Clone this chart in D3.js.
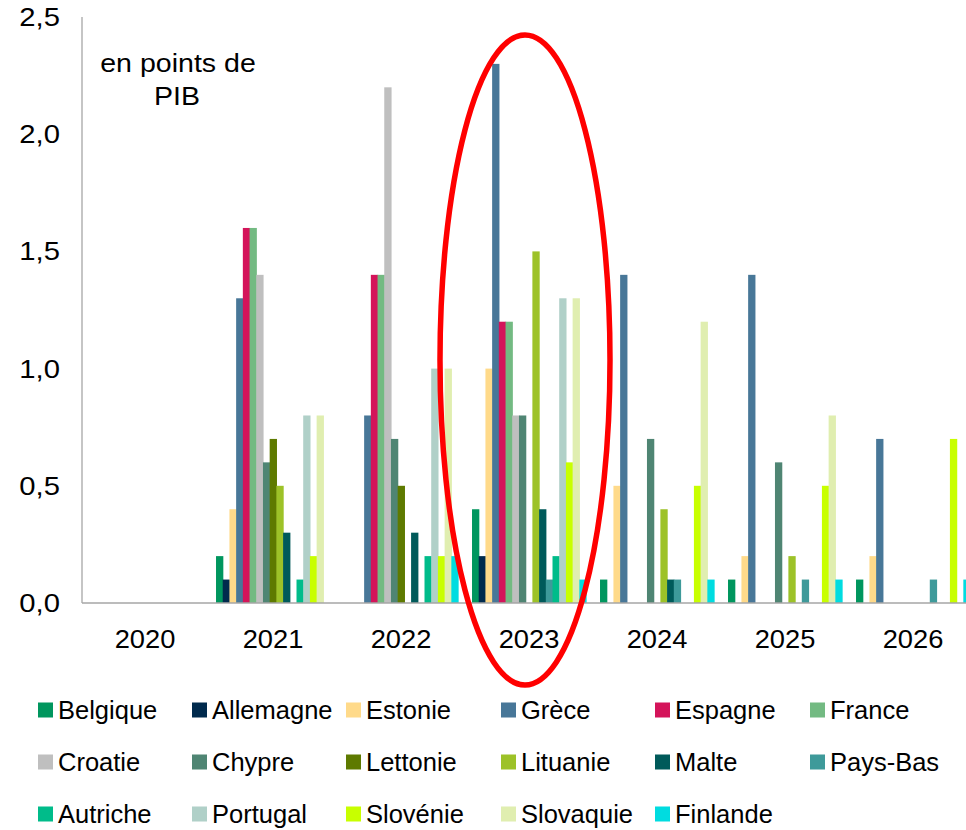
<!DOCTYPE html>
<html><head><meta charset="utf-8">
<script src="https://cdn.jsdelivr.net/npm/d3@7"></script>
<style>body{margin:0;background:#fff;} text{font-family:Arial,"Liberation Sans",sans-serif;}</style>
</head><body>
<svg id="c" width="966" height="830"></svg>
<script>
const years = ["2020","2021","2022","2023","2024","2025","2026"];
const countries = ["Belgique","Allemagne","Estonie","Grèce","Espagne","France","Croatie","Chypre","Lettonie","Lituanie","Malte","Pays-Bas","Autriche","Portugal","Slovénie","Slovaquie","Finlande"];
const colors = ["#00965E","#002A4D","#FFDA8A","#487798","#D4145A","#73BA82","#BFBFBF","#4F8573","#5E7A00","#9DC228","#005A5A","#3E9A9A","#00BC8A","#B0D0C8","#C8FF00","#E0EEB0","#00DCE0"];
// values per country, one per year 2020..2026
const belgique  = [0,0.2,0,0.4,0.1,0.1,0.1];
const allemagne = [0,0.1,0,0.2,0,0,0];
const estonie   = [0,0.4,0,1.0,0.5,0.2,0.2];
const grece     = [0,1.3,0.8,2.3,1.4,1.4,0.7];
const espagne   = [0,1.6,1.4,1.2,0,0,0];
const france    = [0,1.6,1.4,1.2,0,0,0];
const croatie   = [0,1.4,2.2,0.8,0,0,0];
const chypre    = [0,0.6,0.7,0.8,0.7,0.6,0];
const lettonie  = [0,0.7,0.5,0,0,0,0];
const lituanie  = [0,0.5,0,1.5,0.4,0.2,0];
const malte     = [0,0.3,0.3,0.4,0.1,0,0];
const paysbas   = [0,0,0,0.1,0.1,0.1,0.1];
const autriche  = [0,0.1,0.2,0.2,0,0,0];
const portugal  = [0,0.8,1.0,1.3,0,0,0];
const slovenie  = [0,0.2,0.2,0.6,0.5,0.5,0.7];
const slovaquie = [0,0.8,1.0,1.3,1.2,0.8,0];
const finlande  = [0,0,0.2,0.1,0.1,0.1,0.1];
const series = [belgique,allemagne,estonie,grece,espagne,france,croatie,chypre,lettonie,lituanie,malte,paysbas,autriche,portugal,slovenie,slovaquie,finlande];
const yTicks = [0,0.5,1.0,1.5,2.0,2.5];

const svg = d3.select("#c");
const mLeft = 82, mRight = 978, mTop = 17, mBottom = 603;
const x = d3.scaleBand().domain(years).range([mLeft, mRight]);
const y = d3.scaleLinear().domain([0,2.5]).range([mBottom, mTop]);
const step = x.bandwidth()*0.0524;
const off = x.bandwidth()*0.047;

const g = svg.append("g");
countries.forEach((c,i)=>{
  g.selectAll(null).data(series[i].map((v,j)=>({v,yr:years[j]})).filter(d=>d.v>0))
   .enter().append("rect")
   .attr("x", d=>x(d.yr)+off+i*step)
   .attr("width", step+0.6)
   .attr("y", d=>y(d.v))
   .attr("height", d=>y(0)-y(d.v))
   .attr("fill", colors[i]);
});

// axes
svg.append("line").attr("x1",mLeft).attr("x2",mLeft).attr("y1",mTop).attr("y2",mBottom).attr("stroke","#A6A6A6").attr("stroke-width",1.3);
svg.append("line").attr("x1",mLeft).attr("x2",966).attr("y1",mBottom).attr("y2",mBottom).attr("stroke","#A6A6A6").attr("stroke-width",1.3);

svg.selectAll(".yt").data(yTicks).enter().append("text")
  .attr("transform",d=>`translate(60,${y(d)}) scale(1.17,1)`)
  .attr("dy","0.36em").attr("text-anchor","end")
  .attr("font-size",25).attr("fill","#000")
  .text(d=>d.toFixed(1).replace(".",","));

svg.selectAll(".xt").data(years).enter().append("text")
  .attr("transform",d=>`translate(${x(d)+x.bandwidth()/2-1},648) scale(1.05,1)`)
  .attr("text-anchor","middle")
  .attr("font-size",26).attr("fill","#000").text(d=>d);

svg.append("text").attr("transform","translate(178,72) scale(1.12,1)").attr("text-anchor","middle").attr("font-size",25.5).text("en points de");
svg.append("text").attr("transform","translate(177,105) scale(1.12,1)").attr("text-anchor","middle").attr("font-size",25.5).text("PIB");

// red ellipse
svg.append("ellipse").attr("cx",525).attr("cy",360).attr("rx",85).attr("ry",325)
  .attr("fill","none").attr("stroke","#FF0000").attr("stroke-width",5.5);

// legend
const colX = [38,192,346,501,655,810], rowY = [710,762,814];
countries.forEach((c,i)=>{
  const cx = colX[i%6], cy = rowY[Math.floor(i/6)];
  svg.append("rect").attr("x",cx).attr("y",cy-7.5).attr("width",15).attr("height",15).attr("fill",colors[i]);
  svg.append("text").attr("x",cx+20).attr("y",cy+9).attr("font-size",25.5).attr("fill","#000").text(c);
});
</script>
</body></html>
